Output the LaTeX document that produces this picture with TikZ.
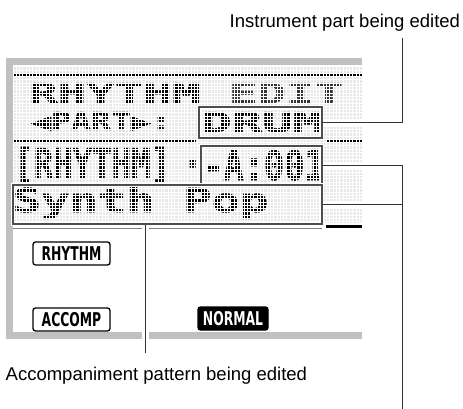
\documentclass[tikz,border=0pt]{standalone}
\usepackage{xcolor}
\usepackage{graphicx}
\usepackage{fontspec}
\usepackage{tikz}
\setmainfont{Liberation Sans}
\newfontfamily\lcdfont[FakeBold=1.6]{DejaVu Sans Mono Bold}
\newfontfamily\btnfont{DejaVu Sans}
\definecolor{LcdFrame}{HTML}{C0C0C0}
\definecolor{LcdDot}{HTML}{E8E8E8}
\definecolor{LcdBox}{HTML}{4D4D4D}
\definecolor{LeaderGray}{HTML}{333333}
\newcommand{\lcdtxt}[3]{{\lcdfont\fontsize{#1}{#1}\selectfont\scalebox{#2}[1]{#3}}}
\newcommand{\btntxt}[1]{{\btnfont\bfseries\fontsize{19}{19}\selectfont\scalebox{0.65}[1]{#1}}}

\begin{document}
\begin{tikzpicture}[x=1pt, y=-1pt,
        lcdrow/.style={inner sep=0pt, anchor=base west},
        editbox/.style={draw=LcdBox, line width=1.5pt, inner sep=0pt, preaction={draw=white, line width=4.5pt}},
        leader/.style={draw=LeaderGray, line width=0.9pt, preaction={draw=white, line width=7pt}},
        button/.style={draw, rounded corners=2.5pt, line width=1.3pt, minimum width=77pt, minimum height=23pt, inner sep=0pt},
        caption/.style={inner sep=0pt, anchor=base west, font=\fontsize{18.5}{20}\selectfont}]
        \useasboundingbox (0,0) rectangle (463,409);
        % display frame
        \fill[LcdFrame] (6,58) rectangle (362,65.5);
        \fill[LcdFrame] (6,58) rectangle (12.7,339);
        \fill[LcdFrame] (6,332) rectangle (362,339);
        % dot matrix area
        \fill[LcdDot] (13,66) rectangle (362,223);
        \draw[line width=3pt] (13,75) -- (362,75);
        \draw[line width=3pt] (13,141) -- (196,141);
        \draw[line width=3pt] (326,141) -- (362,141);
        \node (titletxt) [lcdrow] at (29,103) {\lcdtxt{27.4}{1.73}{RHYTHM \textcolor{black!80}{EDIT}}};
        \node (parttxt) [lcdrow] at (31,130) {\lcdtxt{24.7}{1.34}{◀PART▶:}};
        \node (drumtxt) [lcdrow] at (201,132) {\lcdtxt{27.4}{1.85}{DRUM}};
        \node (rhythmtxt) [lcdrow] at (14,178) {\lcdtxt{41}{0.79}{[RHYTHM]}};
        \node (septxt) [lcdrow] at (182.7,178) {\lcdtxt{41}{0.79}{·}};
        \node (numtxt) [lcdrow] at (203,180) {\lcdtxt{41}{0.82}{-A:001}};
        \node (synthtxt) [lcdrow] at (12.5,212) {\lcdtxt{33}{1.43}{Synth Pop}};
        \begin{scope}
            \clip (13,66) rectangle (362,223);
            \foreach \i in {0,...,106}
                \draw[white, line width=1pt] ({13+3.3*\i},66) -- ({13+3.3*\i},223);
            \foreach \j in {0,...,47}
                \draw[white, line width=1pt] (13,{66.75+3.3*\j}) -- (362,{66.75+3.3*\j});
        \end{scope}
        \draw[black!50, line width=1.3pt] (13,228.3) -- (322,228.3);
        \draw[line width=2.5pt] (326,226.7) -- (362,226.7);
        % edited fields
        \node (drumbox) [editbox, minimum width=123pt, minimum height=31pt] at (260.5,122.5) {};
        \node (numbox) [editbox, minimum width=121pt, minimum height=38pt] at (261.5,165) {};
        \node (synthbox) [editbox, minimum width=309pt, minimum height=39pt] at (167.5,204.5) {};
        % indicators
        \node (rhythmbtn) [button, fill=white] at (71.5,253.5) {\btntxt{RHYTHM}};
        \node (accompbtn) [button, fill=white] at (71.5,319.5) {\btntxt{ACCOMP}};
        \node (normalbtn) [button, fill=black, text=white, minimum width=70pt] at (233,318.5) {\btntxt{NORMAL}};
        % callouts
        \coordinate (parttop) at (402,38);
        \coordinate (patternend) at (402,409);
        \coordinate (accompend) at (145,353);
        \draw[leader] (drumbox.east) -| (parttop);
        \draw[leader] (patternend) |- (numbox.east);
        \draw[leader] (synthbox.east) -- (synthbox.east -| patternend);
        \draw[leader] (synthbox.south -| accompend) -- (accompend);
        \node (partcap) [caption] at (229.5,28) {Instrument part being edited};
        \node (accompcap) [caption] at (5.5,380) {Accompaniment pattern being edited};
    \end{tikzpicture}
\end{document}
